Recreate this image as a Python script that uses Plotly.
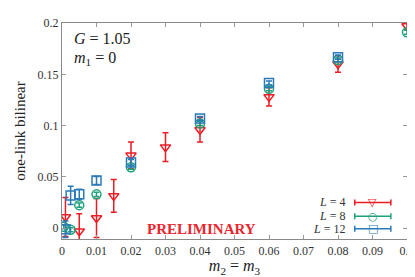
import plotly.graph_objects as go

# L = 4
x4 = [0.001, 0.005, 0.01, 0.015, 0.02, 0.03, 0.04, 0.06, 0.08, 0.1]
y4 = [0.011, -0.003, 0.010, 0.0315, 0.071, 0.079, 0.096, 0.128, 0.160, 0.197]
e4 = [0.019, 0.017, 0.019, 0.016, 0.013, 0.014, 0.012, 0.009, 0.008, 0.004]
# L = 8
x8 = [0.0005, 0.0025, 0.005, 0.01, 0.02, 0.04, 0.06, 0.08, 0.1]
y8 = [0.0015, -0.0015, 0.0225, 0.033, 0.0595, 0.102, 0.136, 0.164, 0.191]
e8 = [0.002, 0.002, 0.002, 0.002, 0.002, 0.002, 0.002, 0.002, 0.002]
# L = 12
x12 = [0.001, 0.0025, 0.005, 0.01, 0.02, 0.04, 0.06, 0.08]
y12 = [-0.001, 0.032, 0.033, 0.0465, 0.064, 0.107, 0.1415, 0.1667]
e12 = [0.008, 0.009, 0.005, 0.004, 0.003, 0.002, 0.002, 0.002]

series_names = ["<i>L</i> = 4", "<i>L</i> = 8", "<i>L</i> = 12"]

xticks = [0, 0.01, 0.02, 0.03, 0.04, 0.05, 0.06, 0.07, 0.08, 0.09, 0.1]
xticklabels = ["0", "0.01", "0.02", "0.03", "0.04", "0.05", "0.06", "0.07", "0.08", "0.09", "0.1"]
yticks = [0, 0.05, 0.1, 0.15, 0.2]
yticklabels = ["0", "0.05", "0.1", "0.15", "0.2"]

RED = "#ec1c24"
GREEN = "#1fa27c"
BLUE = "#2a7ab8"
FONT = "Liberation Serif, Times New Roman, serif"
SYMFONT = "DejaVu Sans"

fig = go.Figure()

def add(x, y, e, name, color, symbol):
    fig.add_trace(go.Scatter(
        x=x, y=y, mode="markers", name=name, showlegend=False,
        marker=dict(symbol=symbol, size=9, color=color,
                    line=dict(color=color, width=1.5)),
        error_y=dict(type="data", array=e, color=color, thickness=1.5, width=3),
    ))

add(x4, y4, e4, series_names[0], RED, "triangle-down-open")
add(x8, y8, e8, series_names[1], GREEN, "circle-open")
add(x12, y12, e12, series_names[2], BLUE, "square-open")

axis_common = dict(
    showline=True, linecolor="#8a8a8a", linewidth=1.2, mirror="ticks",
    ticks="inside", ticklen=4, tickcolor="#9a9a9a", showgrid=False, zeroline=False,
    tickfont=dict(family=FONT, size=12, color="#333333"),
)

annotations = [
    dict(text="<i>G</i> = 1.05", xref="paper", yref="paper", x=0.03, y=0.93,
         xanchor="left", yanchor="middle", showarrow=False,
         font=dict(family=FONT, size=16, color="#222222")),
    dict(text="<i>m</i><sub>1</sub> = 0", xref="paper", yref="paper", x=0.03, y=0.835,
         xanchor="left", yanchor="middle", showarrow=False,
         font=dict(family=FONT, size=16, color="#222222")),
    dict(text="<b>PRELIMINARY</b>", xref="paper", yref="paper", x=0.405, y=0.046,
         xanchor="center", yanchor="middle", showarrow=False,
         font=dict(family=FONT, size=15, color="#e8262e")),
]
shapes = []

# legend key (text on the left, marker with bar on the right)
leg_rows = [0.169, 0.105, 0.047]
leg_colors = [RED, GREEN, BLUE]
leg_glyphs = ["▽", "○", "□"]
x0, x1, xm = 0.8486, 0.9532, 0.9003
cap = 0.014
for name, yy, col, g in zip(series_names, leg_rows, leg_colors, leg_glyphs):
    annotations.append(dict(text=name, xref="paper", yref="paper", x=0.822, y=yy,
                            xanchor="right", yanchor="middle", showarrow=False,
                            borderpad=0,
                            font=dict(family=FONT, size=12, color="#333333")))
    shapes.append(dict(type="line", xref="paper", yref="paper", x0=x0, x1=x1, y0=yy, y1=yy,
                       line=dict(color=col, width=1.5)))
    shapes.append(dict(type="line", xref="paper", yref="paper", x0=x0, x1=x0, y0=yy - cap, y1=yy + cap,
                       line=dict(color=col, width=1.5)))
    shapes.append(dict(type="line", xref="paper", yref="paper", x0=x1, x1=x1, y0=yy - cap, y1=yy + cap,
                       line=dict(color=col, width=1.5)))
    annotations.append(dict(text=g, xref="paper", yref="paper", x=xm, y=yy,
                            xanchor="center", yanchor="middle", showarrow=False,
                            borderpad=0,
                            font=dict(family=SYMFONT, size=11, color=col)))

fig.update_layout(
    width=415, height=277,
    margin=dict(l=54, r=13, t=8, b=46),
    paper_bgcolor="white", plot_bgcolor="white",
    font=dict(family=FONT, color="#222222", size=12),
    showlegend=False,
    xaxis=dict(range=[0, 0.1], tickvals=xticks, ticktext=xticklabels,
               title=dict(text="<i>m</i><sub>2</sub> = <i>m</i><sub>3</sub>",
                          font=dict(family=FONT, size=16, color="#222222"), standoff=0),
               **axis_common),
    yaxis=dict(range=[-0.0105, 0.2], tickvals=yticks, ticktext=yticklabels,
               title=dict(text="one-link bilinear",
                          font=dict(family=FONT, size=15, color="#222222"), standoff=8),
               **axis_common),
    annotations=annotations,
    shapes=shapes,
)

fig.write_html("out.html")
